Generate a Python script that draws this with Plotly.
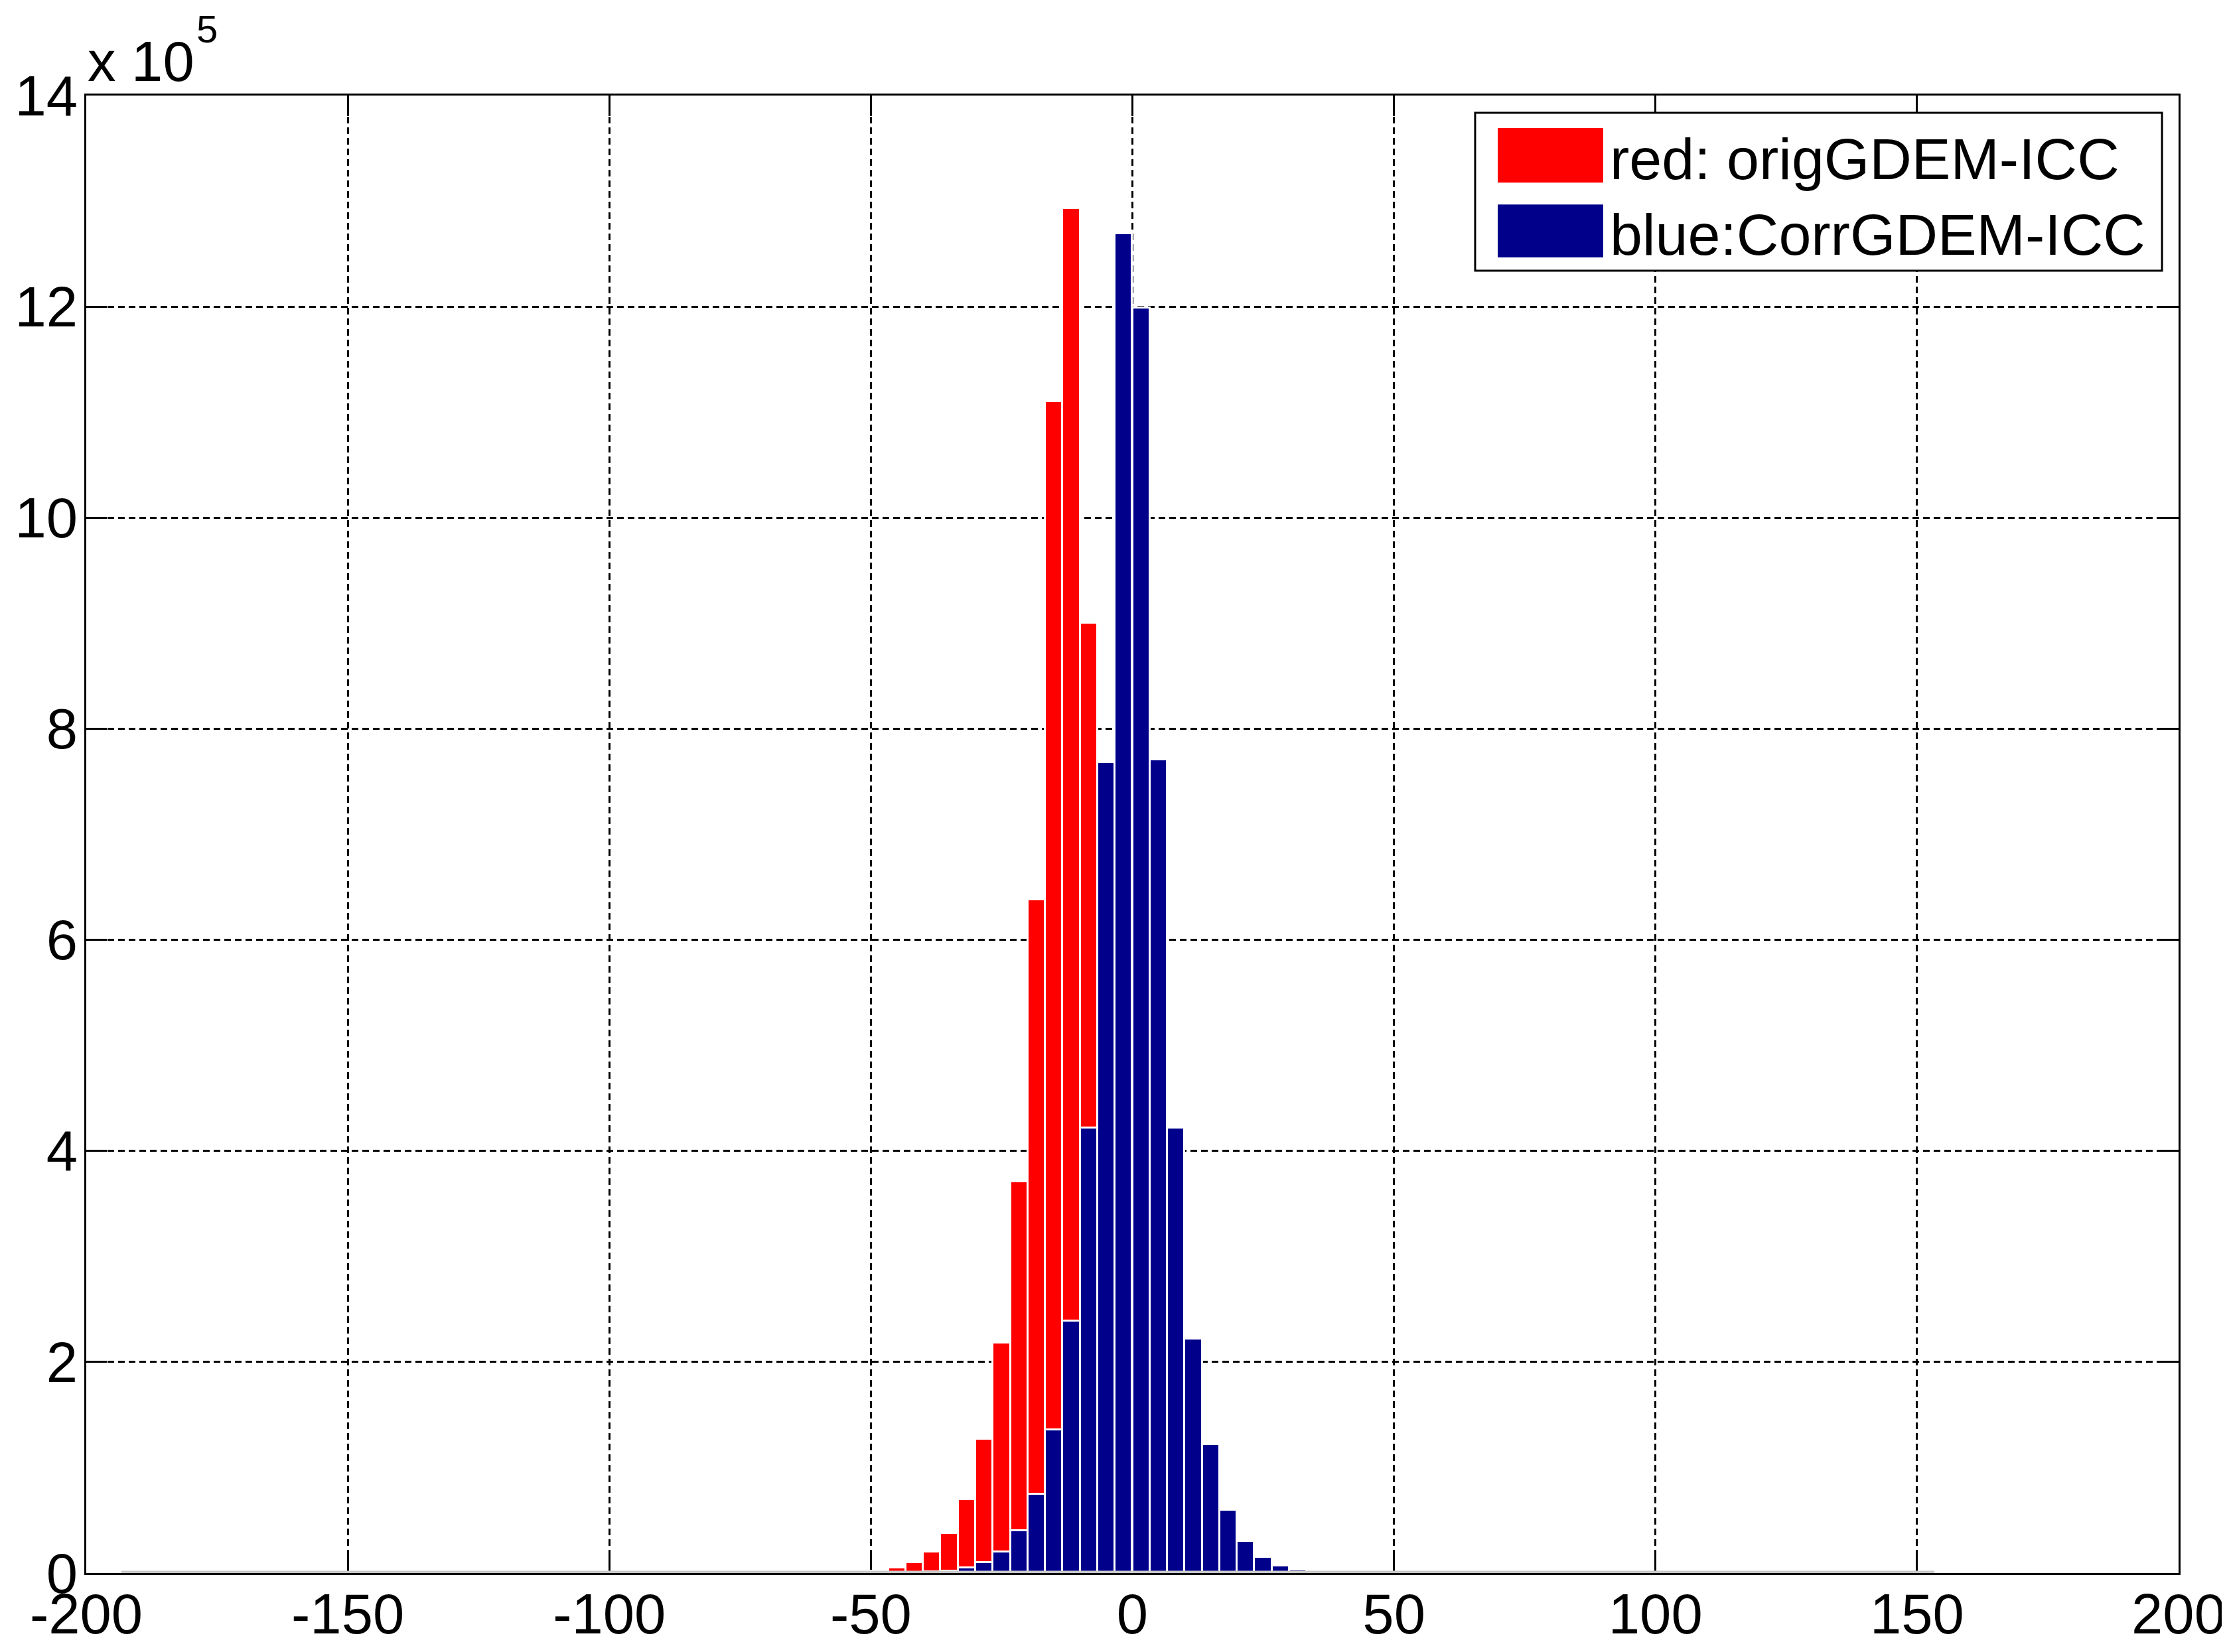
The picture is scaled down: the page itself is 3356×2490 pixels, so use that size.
import plotly.graph_objects as go

# ---------------- data (counts; axis shows units of 10^5) ----------------
BIN_WIDTH = 10 / 3  # histogram bin width

red_centers = [-51.67, -48.33, -45.00, -41.67, -38.33, -35.00, -31.67, -28.33,
               -25.00, -21.67, -18.33, -15.00, -11.67, -8.33, -5.00, -1.67,
               1.67, 5.00, 8.33, 11.67, 15.00]
red_counts = [1000, 2000, 5000, 10000, 20000, 38000, 70000, 127000,
              218000, 371000, 638000, 1110000, 1293000, 900000, 460000, 190000,
              80000, 35000, 15000, 7000, 3000]

blue_centers = [-38.33, -35.00, -31.67, -28.33, -25.00, -21.67, -18.33, -15.00,
                -11.67, -8.33, -5.00, -1.67, 1.67, 5.00, 8.33, 11.67,
                15.00, 18.33, 21.67, 25.00, 28.33, 31.67, 35.00]
blue_counts = [1000, 2000, 5000, 10000, 20000, 40000, 75000, 136000,
               239000, 422000, 768000, 1269000, 1199000, 771000, 422000, 222000,
               122000, 60000, 30000, 15000, 7000, 3000, 2000]

# extent of the (mostly empty) histogram bins drawn along the baseline
hist_extent = [-193.33, 153.33]

x_ticks = [-200, -150, -100, -50, 0, 50, 100, 150, 200]
y_ticks = [0, 200000, 400000, 600000, 800000, 1000000, 1200000, 1400000]
y_ticklabels = ["0", "2", "4", "6", "8", "10", "12", "14"]

legend_labels = ["red: origGDEM-ICC", "blue:CorrGDEM-ICC"]

RED = "#ff0000"
BLUE = "#00008b"
FONT = "Liberation Sans, Arial, Helvetica, sans-serif"

fig = go.Figure()

fig.add_trace(go.Scatter(
    x=hist_extent, y=[0, 0], mode="lines",
    line=dict(color="#c8c8c8", width=7),
    hoverinfo="skip", showlegend=False,
))
fig.add_trace(go.Bar(
    x=red_centers, y=red_counts, width=BIN_WIDTH, name=legend_labels[0],
    marker=dict(color=RED, line=dict(color="white", width=3)),
    showlegend=False,
))
fig.add_trace(go.Bar(
    x=blue_centers, y=blue_counts, width=BIN_WIDTH, name=legend_labels[1],
    marker=dict(color=BLUE, line=dict(color="white", width=3)),
    showlegend=False,
))

axis_common = dict(
    showline=True, linecolor="black", linewidth=3, mirror="ticks",
    ticks="inside", ticklen=31, tickwidth=3, tickcolor="black",
    showgrid=True, gridcolor="black", gridwidth=2.5, griddash="10px,6px",
    zeroline=False, automargin=False,
    tickfont=dict(family=FONT, size=85, color="black"),
)

fig.update_xaxes(range=[-200, 200], tickmode="array", tickvals=x_ticks,
                 ticktext=[str(v) for v in x_ticks], layer="below traces",
                 ticklabelstandoff=-14, **axis_common)
fig.update_yaxes(range=[0, 1400000], tickmode="array", tickvals=y_ticks,
                 ticktext=y_ticklabels, ticklabelstandoff=-7, **axis_common)

# exponent label ("x 10" with superscript 5)
fig.add_annotation(
    xref="paper", yref="paper", x=0, y=1, xanchor="left", yanchor="bottom",
    text="x 10", showarrow=False, yshift=2,
    font=dict(family=FONT, size=85, color="black"),
)
fig.add_annotation(
    xref="paper", yref="paper", x=0.052, y=1, xanchor="left", yanchor="bottom",
    text="5", showarrow=False, yshift=66,
    font=dict(family=FONT, size=58, color="black"),
)

# custom legend (MATLAB style large swatches)
shapes = [
    dict(type="rect", xref="paper", yref="paper", x0=0.6638, x1=0.9921,
         y0=0.8814, y1=0.9883, line=dict(color="black", width=3),
         fillcolor="white", layer="above"),
    dict(type="rect", xref="paper", yref="paper", x0=0.6746, x1=0.7250,
         y0=0.9411, y1=0.9780, line=dict(width=0), fillcolor=RED, layer="above"),
    dict(type="rect", xref="paper", yref="paper", x0=0.6746, x1=0.7250,
         y0=0.8904, y1=0.9263, line=dict(width=0), fillcolor=BLUE, layer="above"),
]
fig.update_layout(shapes=shapes)
for label, ypos in zip(legend_labels, [0.9569, 0.9061]):
    fig.add_annotation(
        xref="paper", yref="paper", x=0.7275, y=ypos, xanchor="left",
        yanchor="middle", text=label, showarrow=False,
        font=dict(family=FONT, size=88, color="black"),
    )

fig.update_layout(
    width=3356, height=2490,
    margin=dict(l=122, r=81, t=136, b=127, autoexpand=False),
    paper_bgcolor="white", plot_bgcolor="white",
    barmode="overlay", bargap=0,
    showlegend=False,
)

fig.write_html("out.html")
